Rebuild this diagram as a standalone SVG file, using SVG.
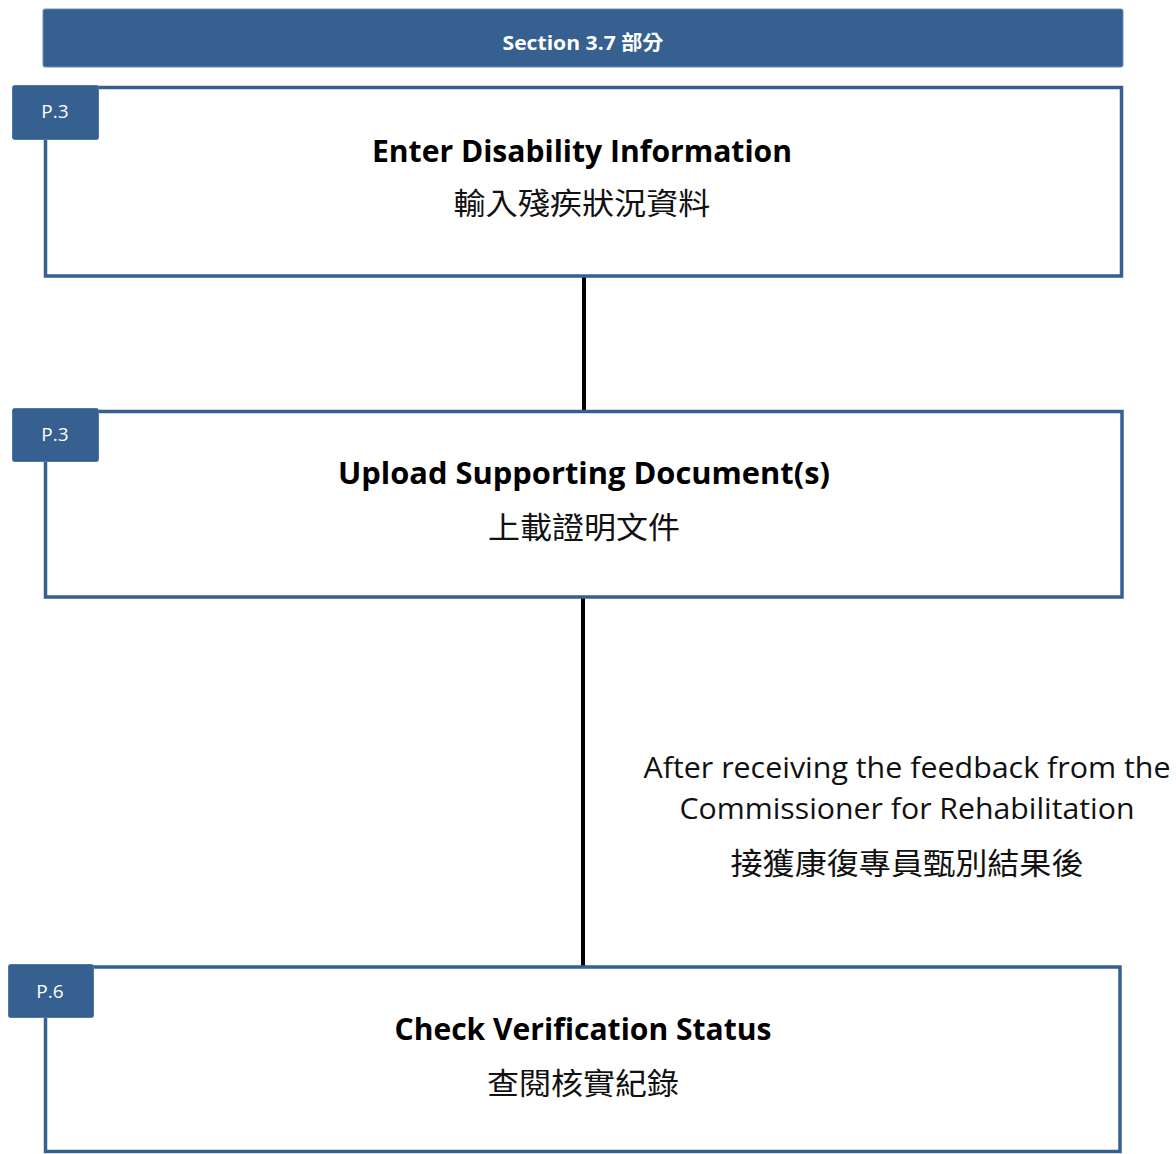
<svg xmlns="http://www.w3.org/2000/svg" width="1176" height="1154" viewBox="0 0 1176 1154">
<style>
.box{fill:#ffffff;stroke:#36608f;stroke-width:3.5}
.tab{fill:#36608f;stroke:#4f76a6;stroke-width:1}
.tabt{font-family:"Open Sans","Noto Sans",sans-serif;font-size:19px;fill:#ffffff;text-anchor:middle}
.title{font-family:"Open Sans","Noto Sans",sans-serif;font-weight:bold;font-size:30px;fill:#000000;text-anchor:middle}
.zh{font-family:"Noto Sans CJK TC","Noto Sans",sans-serif;font-size:30px;fill:#111111;text-anchor:middle}
.lbl{font-family:"Open Sans","Noto Sans",sans-serif;font-size:29px;fill:#111111;text-anchor:middle}
.zhl{font-family:"Noto Sans CJK TC","Noto Sans",sans-serif;font-size:30px;fill:#111111;text-anchor:middle}
.conn{stroke:#000000;stroke-width:4;fill:none}
</style>
<rect width="1176" height="1154" fill="#ffffff"/>
<g id="header">
<rect x="43" y="9" width="1080" height="58" rx="2" fill="#36608f" stroke="#6a8cb6" stroke-width="1"/>
<text x="583" y="50" font-family="'Open Sans','Noto Sans CJK TC',sans-serif" font-weight="bold" font-size="20" fill="#ffffff" text-anchor="middle" textLength="161" lengthAdjust="spacingAndGlyphs">Section 3.7 部分</text>
</g>
<g id="connectors">
<line class="conn" x1="584" y1="277" x2="584" y2="411"/>
<line class="conn" x1="583" y1="598" x2="583" y2="967"/>
<text class="lbl" x="907" y="778" textLength="527" lengthAdjust="spacingAndGlyphs">After receiving the feedback from the</text>
<text class="lbl" x="907" y="819" textLength="455" lengthAdjust="spacingAndGlyphs">Commissioner for Rehabilitation</text>
<text class="zhl" x="907" y="874" textLength="353" lengthAdjust="spacingAndGlyphs">接獲康復專員甄別結果後</text>
</g>
<g id="node1">
<rect class="box" x="45.5" y="87.5" width="1076" height="188.5"/>
<rect class="tab" x="12.5" y="85.5" width="86" height="54" rx="2"/>
<text class="tabt" x="55" y="118">P.3</text>
<text class="title" x="582" y="162" textLength="420" lengthAdjust="spacingAndGlyphs">Enter Disability Information</text>
<text class="zh" x="582" y="214" textLength="257" lengthAdjust="spacingAndGlyphs">輸入殘疾狀況資料</text>
</g>
<g id="node2">
<rect class="box" x="45.5" y="411.5" width="1076.5" height="185.5"/>
<rect class="tab" x="12.5" y="408.5" width="86" height="53" rx="2"/>
<text class="tabt" x="55" y="441">P.3</text>
<text class="title" x="584" y="484" textLength="492" lengthAdjust="spacingAndGlyphs">Upload Supporting Document(s)</text>
<text class="zh" x="584" y="538" textLength="192" lengthAdjust="spacingAndGlyphs">上載證明文件</text>
</g>
<g id="node3">
<rect class="box" x="45.5" y="967" width="1074.5" height="184.5"/>
<rect class="tab" x="8.5" y="964.5" width="85" height="53" rx="2"/>
<text class="tabt" x="50" y="998">P.6</text>
<text class="title" x="583" y="1040" textLength="377" lengthAdjust="spacingAndGlyphs">Check Verification Status</text>
<text class="zh" x="583" y="1094" textLength="192" lengthAdjust="spacingAndGlyphs">查閱核實紀錄</text>
</g>
</svg>
